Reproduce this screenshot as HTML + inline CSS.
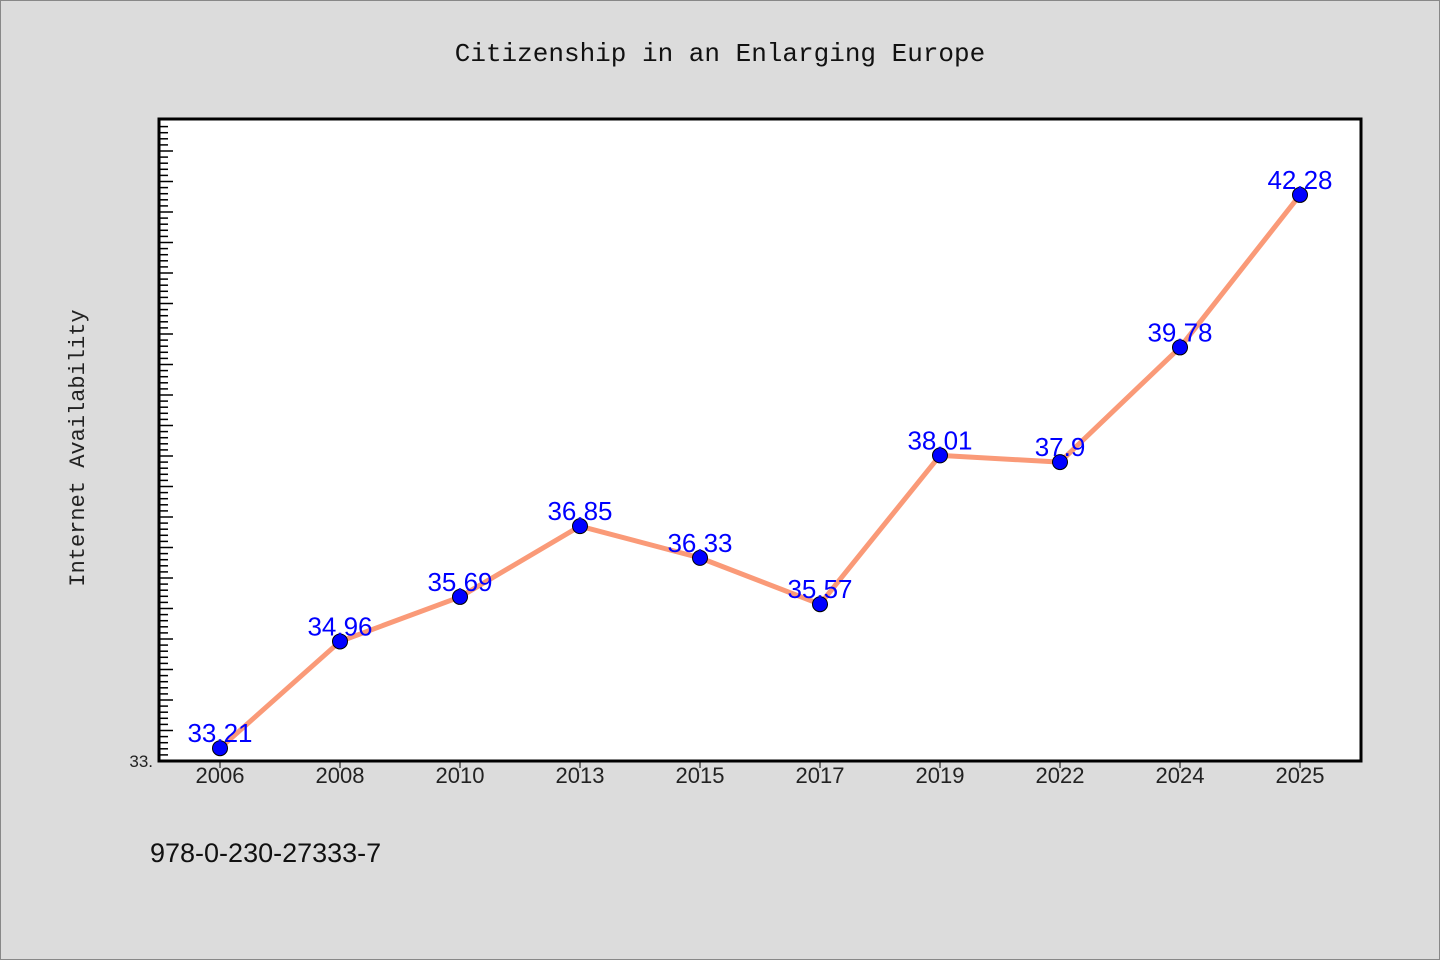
<!DOCTYPE html>
<html><head><meta charset="utf-8"><style>
html,body{margin:0;padding:0;background:#dcdcdc;}
svg{display:block;font-family:"Liberation Mono","Noto Sans CJK SC",monospace;}
</style></head><body>
<svg width="1440" height="960" id="chart">
<rect x="0.5" y="0.5" width="1439" height="959" fill="#dcdcdc" stroke="#888"/>
<text x="720" y="61" text-anchor="middle" font-size="26" fill="#111">Citizenship in an Enlarging Europe</text>
<rect x="159" y="119" width="1202" height="642" fill="#fff"/>
<g id="ticks"></g>
<g id="series"></g>
<rect x="159" y="119" width="1202" height="642" fill="none" stroke="#000" stroke-width="3"/>
<text transform="translate(84,448) rotate(-90)" text-anchor="middle" font-size="22" fill="#222">Internet Availability</text>
<text x="150" y="862" font-family="Liberation Sans, sans-serif" font-size="27" fill="#111">978-0-230-27333-7</text>
</svg>
<script>
const categories=["2006","2008","2010","2013","2015","2017","2019","2022","2024","2025"];
const values=[33.21,34.96,35.69,36.85,36.33,35.57,38.01,37.9,39.78,42.28];
const labels=["33.21","34.96","35.69","36.85","36.33","35.57","38.01","37.9","39.78","42.28"];
const yMin=33.0;
const NS="http://www.w3.org/2000/svg";
const x0=159,x1=1361,yTop=119,yBot=761,pxPerUnit=61;
function xs(i){return 220+i*120;}
function ys(v){return yBot-(v-yMin)*pxPerUnit;}
function mk(t,a,p){const e=document.createElementNS(NS,t);for(const k in a)e.setAttribute(k,a[k]);p.appendChild(e);return e;}
const tg=document.getElementById('ticks');
for(let k=1;;k++){const v=yMin+k*0.1;const y=ys(v);if(y<yTop+2)break;
const major=k%5===0;
const t=mk('line',{x1:x0,x2:x0+(major?14:9),y1:y,y2:y,stroke:'#000','stroke-width':1.5},tg);

}
const yl=mk('text',{x:153,y:767,'text-anchor':'end','font-size':17,fill:'#222','font-family':'Liberation Sans, sans-serif'},tg);
yl.textContent="33.";


categories.forEach((c,i)=>{
const t=mk('line',{x1:xs(i),x2:xs(i),y1:yBot,y2:yBot+7,stroke:'#000','stroke-width':1},tg);


const l=mk('text',{x:xs(i),y:783,'text-anchor':'middle','font-size':22,fill:'#222','font-family':'Liberation Sans, sans-serif'},tg);
l.textContent=c;


});
const sg=document.getElementById('series');
const pl=mk('polyline',{points:values.map((v,i)=>xs(i)+','+ys(v)).join(' '),fill:'none',stroke:'#fa9a78','stroke-width':5,'stroke-linejoin':'round'},sg);


values.forEach((v,i)=>{
const c=mk('circle',{cx:xs(i),cy:ys(v),r:7.5,fill:'#0000ff',stroke:'#000','stroke-width':1},sg);


const t=mk('text',{x:xs(i),y:ys(v)-6,'text-anchor':'middle','font-size':26,fill:'#0000ff','font-family':'Liberation Sans, sans-serif'},sg);
t.textContent=labels[i];


});
</script>
</body></html>
